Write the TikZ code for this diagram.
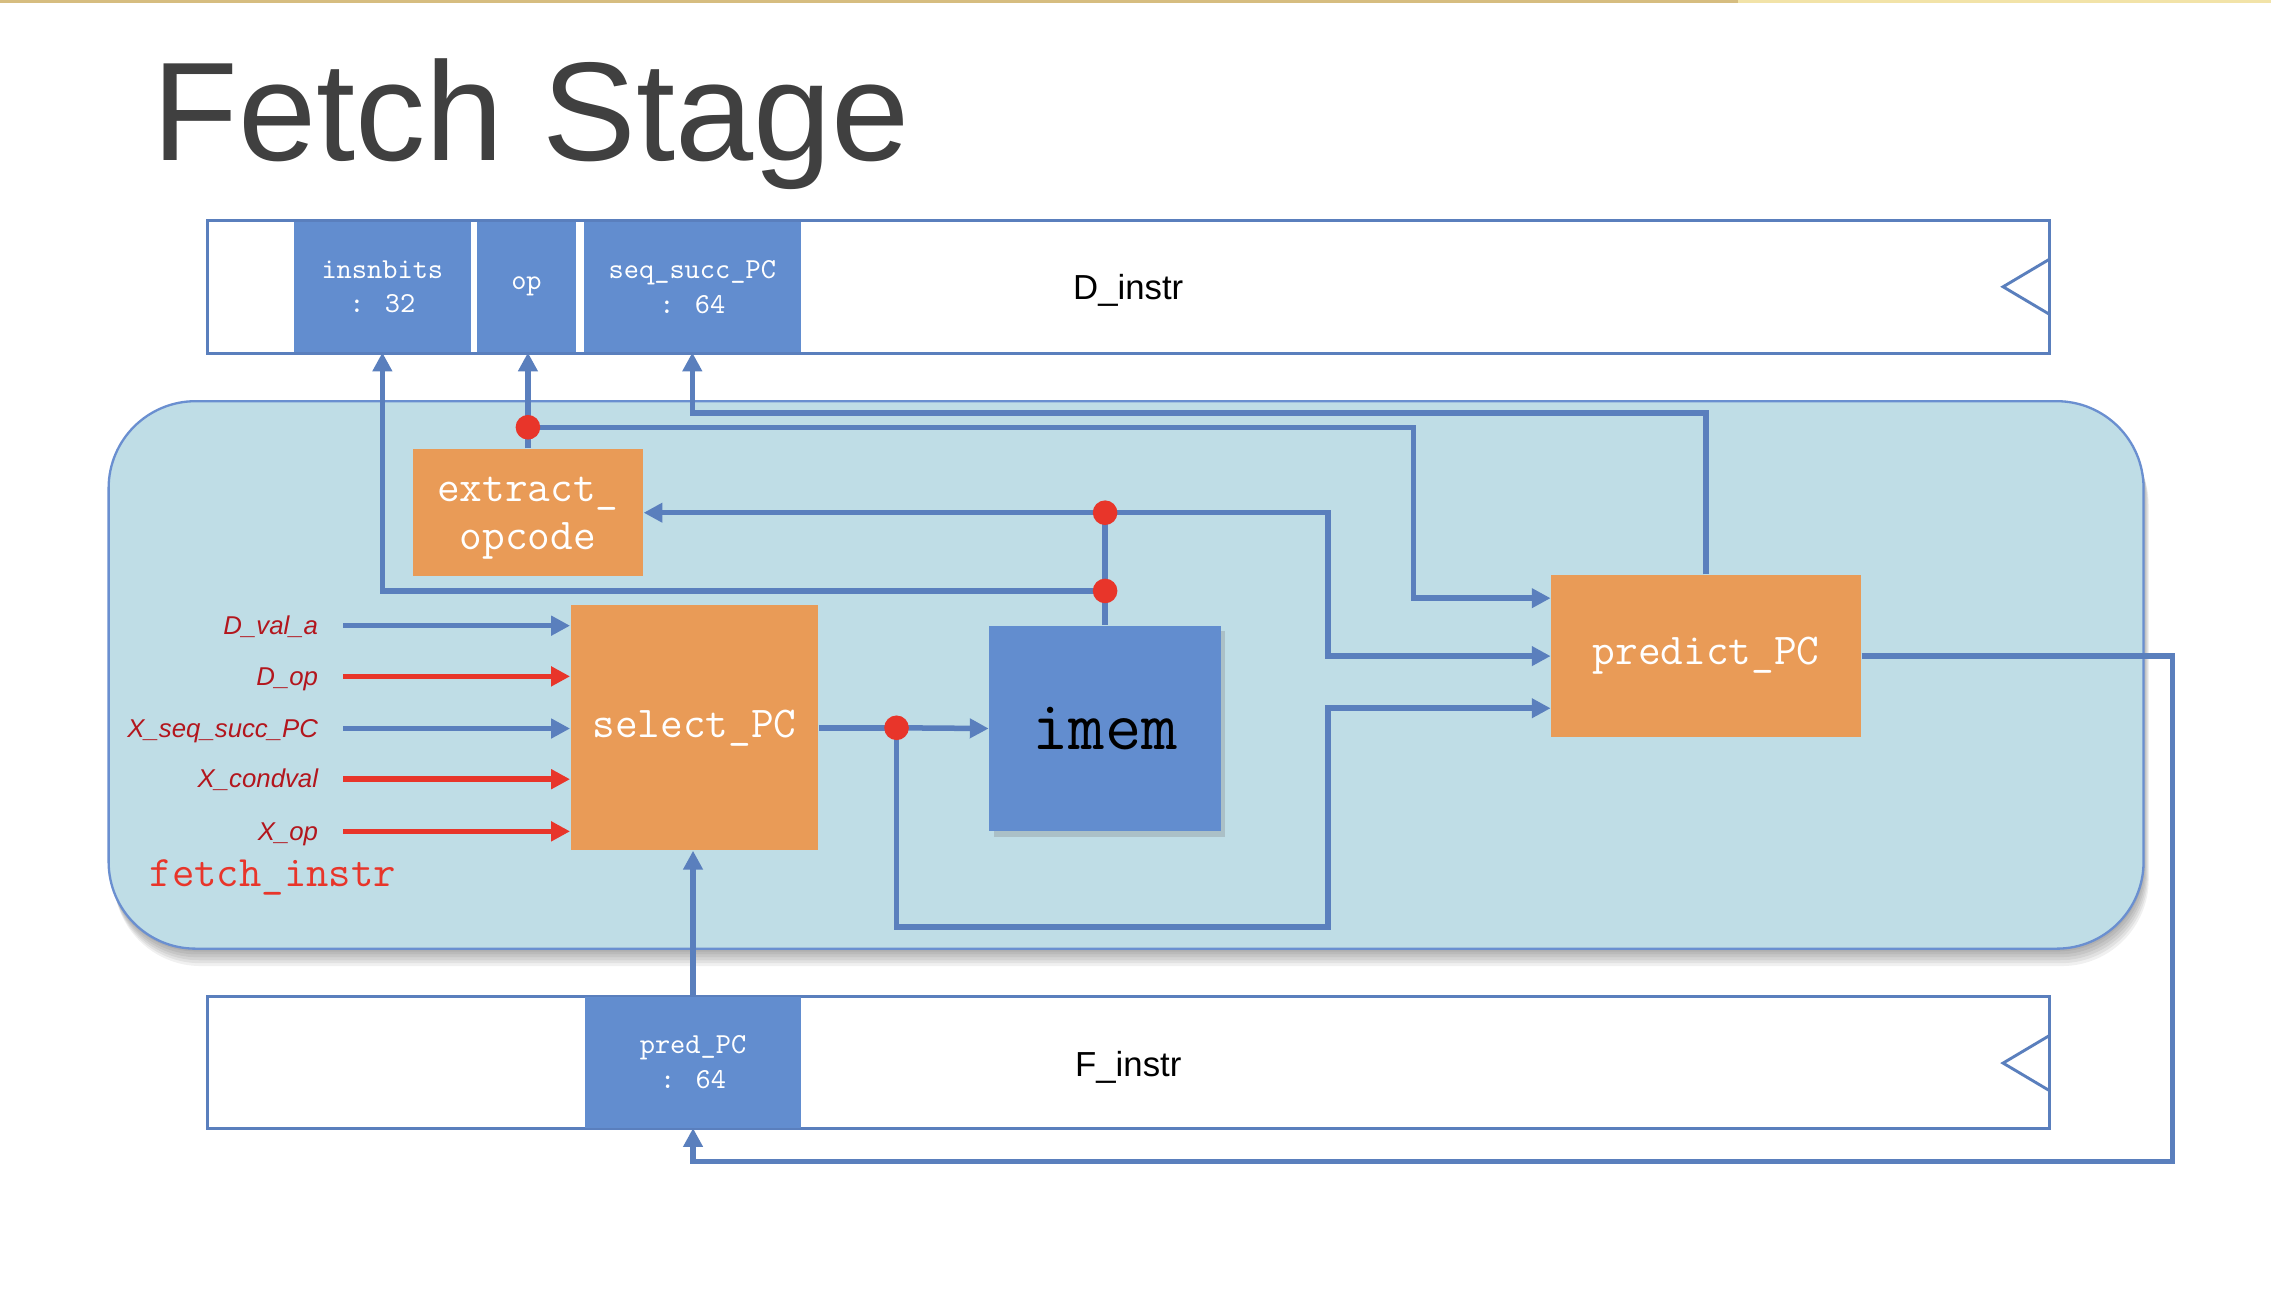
\documentclass[tikz,border=0pt]{standalone}
\usepackage{fontspec}
\setmainfont{Liberation Sans}
\usetikzlibrary{arrows.meta,shadows}
\definecolor{lineblue}{HTML}{5A7FBD}
\definecolor{fieldblue}{HTML}{628DCF}
\definecolor{boxorange}{HTML}{E99B57}
\definecolor{bgblue}{HTML}{BFDDE6}
\definecolor{bgborder}{HTML}{6A8FD0}
\definecolor{reddot}{HTML}{E8352A}
\definecolor{labelred}{HTML}{B3161D}
\definecolor{titlegray}{HTML}{404040}
\definecolor{topline}{HTML}{D6BD80}
\definecolor{toplinelight}{HTML}{F2E3A8}
\newcommand{\fsz}[1]{\fontsize{#1}{1.2\dimexpr#1\relax}\selectfont}
\tikzset{
  wire/.style={draw=lineblue, line width=1.9pt},
  redwire/.style={draw=reddot, line width=1.9pt},
  arr/.style={-{Triangle[length=6.5pt,width=6.5pt]}},
  jdot/.style={circle, fill=reddot, inner sep=0pt, minimum size=8.5pt},
  fubox/.style={fill=boxorange, text=white, inner sep=0pt, align=center, font=\ttfamily\fsz{15.2pt}},
  field/.style={fill=fieldblue, text=white, inner sep=0pt, align=center, font=\ttfamily\fsz{10pt}},
  reg/.style={draw=lineblue, line width=1pt, fill=white},
  inlabel/.style={text=labelred, font=\itshape\fsz{8.9pt}, anchor=base east, inner sep=0pt},
  softshadow/.style={fill=black, opacity=0.06, rounded corners=30pt},
}
\begin{document}
\begin{tikzpicture}[x=0.5pt, y=-0.5pt]
\useasboundingbox (0,0) rectangle (1568,893);
\fill[white] (0,0) rectangle (1568,893);
% top rule
\draw[topline, line width=1pt] (0,1) -- (1200,1);
\draw[toplinelight, line width=1pt] (1200,1) -- (1568,1);
% title
\node[text=titlegray, font=\fsz{48.5pt}, anchor=base west, inner sep=0pt] (title) at (105,111) {Fetch Stage};

% D_instr register
\draw[reg] (143,152) rectangle (1415,244);
\draw[lineblue, line width=1pt] (1415,179) -- (1383,198) -- (1415,217);
\node[field, minimum width=61pt, minimum height=45pt] (ins) at (264,198) {insnbits\\: 32};
\node[field, minimum width=34.5pt, minimum height=45pt] (op) at (363.5,198) {op};
\node[field, minimum width=75pt, minimum height=45pt] (seq) at (478,198) {seq\_succ\_PC\\: 64};
\node[anchor=base, font=\fsz{12pt}, inner sep=0pt] (dlab) at (779,207) {D\_instr};

% F_instr register
\draw[reg] (143,688) rectangle (1415,779);
\draw[lineblue, line width=1pt] (1415,715) -- (1383,734) -- (1415,753);
\node[field, minimum width=74.5pt, minimum height=45pt] (pc) at (478.5,733.5) {pred\_PC\\: 64};
\node[anchor=base, font=\fsz{12pt}, inner sep=0pt] (flab) at (779,743) {F\_instr};

% main module with soft shadow
\foreach \s in {2,4,6,8,10,12}{
  \fill[softshadow] (75+\s*0.3,277+\s) rectangle (1480+\s*0.3,655+\s);
}
\draw[draw=bgborder, line width=0.8pt, fill=bgblue, rounded corners=30pt]
  (75,277) rectangle (1480,655);
\node[text=reddot, font=\ttfamily\fsz{15pt}, anchor=base west, inner sep=0pt] (fname) at (103,612) {fetch\_instr};

% function blocks
\node[fubox, minimum width=79.5pt, minimum height=44pt] (eo) at (364.5,354) {};
\node[font=\ttfamily\fontsize{15.2pt}{16.5pt}\selectfont, text=white, inner sep=0pt, align=center]
  (eotext) at ([yshift=-2pt]eo.center) {extract\_\\opcode};
\node[fubox, minimum width=85.5pt, minimum height=84.5pt] (sp) at (479.5,502.5) {select\_PC};
\node[fubox, minimum width=107pt, minimum height=56pt] (pp) at (1178,453) {predict\_PC};
\node[fill=fieldblue, inner sep=0pt, minimum width=80pt, minimum height=71pt,
      font=\ttfamily\fsz{24.3pt},
      drop shadow={shadow xshift=1.5pt, shadow yshift=-2pt, opacity=0.3}] (im) at (763,503) {imem};

% junction points
\coordinate (d1) at (364.5,295);
\coordinate (d2) at (763,408);
\coordinate (d3) at (763,354);
\coordinate (d4) at (619,502.5);

% wires
\draw[wire, arr] (eo.north) -- (eo.north |- op.south);
\draw[wire, arr] (d1) -- (976,295) -- (976,413) -- (pp.west |- 0,413);
\draw[wire, arr] (pp.north) -- (1178,285) -- (478,285) -- (seq.south);
\draw[wire] (im.north) -- (d3);
\draw[wire, arr] (d3) -- (eo.east);
\draw[wire, arr] (d3) -- (917,354) -- (917,453) -- (pp.west);
\draw[wire, arr] (d2) -- (264,408) -- (ins.south);
\draw[wire] (sp.east) -- (d4);
\draw[wire, arr] (d4) -- (im.west);
\draw[wire, arr] (d4) -- (619,640) -- (917,640) -- (917,489) -- (pp.west |- 0,489);
\draw[wire, arr] (pp.east) -- (1500,453) -- (1500,802) -- (478.5,802) -- (pc.south);
\draw[wire, arr] (pc.north) -- (pc.north |- sp.south);
\node[jdot] (j1) at (d1) {};
\node[jdot] (j2) at (d2) {};
\node[jdot] (j3) at (d3) {};
\node[jdot] (j4) at (d4) {};

% inputs
\node[inlabel] (l1) at (220,438) {D\_val\_a};
\node[inlabel] (l2) at (220,473) {D\_op};
\node[inlabel] (l3) at (220,509) {X\_seq\_succ\_PC};
\node[inlabel] (l4) at (220,544) {X\_condval};
\node[inlabel] (l5) at (220,580) {X\_op};
\coordinate (s1) at (237,432);
\coordinate (s2) at (237,467);
\coordinate (s3) at (237,503);
\coordinate (s4) at (237,538);
\coordinate (s5) at (237,574);
\draw[wire, arr] (s1) -- (sp.west |- s1);
\draw[redwire, arr] (s2) -- (sp.west |- s2);
\draw[wire, arr] (s3) -- (sp.west |- s3);
\draw[redwire, arr] (s4) -- (sp.west |- s4);
\draw[redwire, arr] (s5) -- (sp.west |- s5);
\end{tikzpicture}
\end{document}
